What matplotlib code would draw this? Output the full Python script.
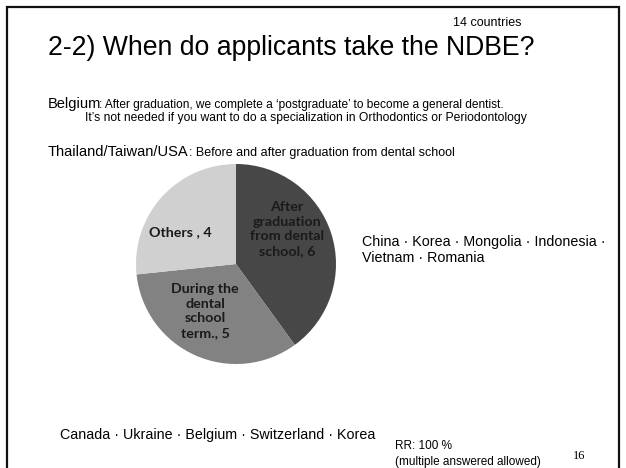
import matplotlib.pyplot as plt
from matplotlib.patches import Rectangle

# data
labels = ['After\ngraduation\nfrom dental\nschool, 6', 'During the\ndental\nschool\nterm., 5', 'Others , 4']
counts = [6, 5, 4]
colors = ['#474747', '#828282', '#d0d0d0']

title = '2-2) When do applicants take the NDBE?'
n_countries = '14 countries'
after_countries = 'China \u00b7 Korea \u00b7 Mongolia \u00b7 Indonesia \u00b7\nVietnam \u00b7 Romania'
during_countries = 'Canada \u00b7 Ukraine \u00b7 Belgium \u00b7 Switzerland \u00b7 Korea'

W, H = 626, 468
fig = plt.figure(figsize=(W / 100, H / 100), dpi=100)


def px(x, y):
    # pixel coords (from top-left) -> figure fraction
    return x / W, 1 - y / H


sans = ['Liberation Sans', 'DejaVu Sans']

# slide frame
fig.patches.append(Rectangle(px(7, 480), (619 - 7) / W, (480 - 7) / H,
                             transform=fig.transFigure, fill=False,
                             edgecolor='#111111', linewidth=1.6))

fig.text(*px(48, 55), title, fontsize=19.2, family=sans, va='baseline', ha='left')
fig.text(*px(453, 23), n_countries, fontsize=9, family=sans, va='center', ha='left')

fig.text(*px(48, 104), 'Belgium', fontsize=10.5, family=sans, va='center')
fig.text(*px(99, 105), ': After graduation, we complete a \u2018postgraduate\u2019 to become a general dentist.',
         fontsize=8.6, family=sans, va='center')
fig.text(*px(85, 118), 'It\u2019s not needed if you want to do a specialization in Orthodontics or Periodontology',
         fontsize=8.7, family=sans, va='center')
fig.text(*px(48, 152), 'Thailand/Taiwan/USA', fontsize=10.5, family=sans, va='center')
fig.text(*px(189, 153), ': Before and after graduation from dental school',
         fontsize=9, family=sans, va='center')

# pie
ax = fig.add_axes([136 / W, (H - 364) / H, 200 / W, 200 / H])
wedges, texts = ax.pie(counts, colors=colors, startangle=90, counterclock=False,
                       labels=labels, labeldistance=0.6,
                       wedgeprops=dict(linewidth=0),
                       textprops=dict(fontsize=10.3, family=['Lato', 'DejaVu Sans'],
                                      fontweight='bold', color='#1a1a1a',
                                      ha='center', va='center', linespacing=1.25))
ax.set_xlim(-1, 1)
ax.set_ylim(-1, 1)
ax.set_aspect('equal')
ax.axis('off')
# nudge labels to where they sit on the slide
texts[0].set_position((0.51, 0.35))
texts[1].set_position((-0.31, -0.47))
texts[2].set_position((-0.56, 0.32))

fig.text(*px(362, 250), after_countries, fontsize=10.3, family=sans, va='center', linespacing=1.2)
fig.text(*px(60, 435), during_countries, fontsize=10.3, family=sans, va='center')
fig.text(*px(395, 446), 'RR: 100 %', fontsize=8.5, family=sans, va='center')
fig.text(*px(395, 462), '(multiple answered allowed)', fontsize=8.5, family=sans, va='center')
fig.text(*px(573, 456), '16', fontsize=9, family=['Liberation Serif', 'DejaVu Serif'], va='center')

fig.savefig('out.png', dpi=100)
